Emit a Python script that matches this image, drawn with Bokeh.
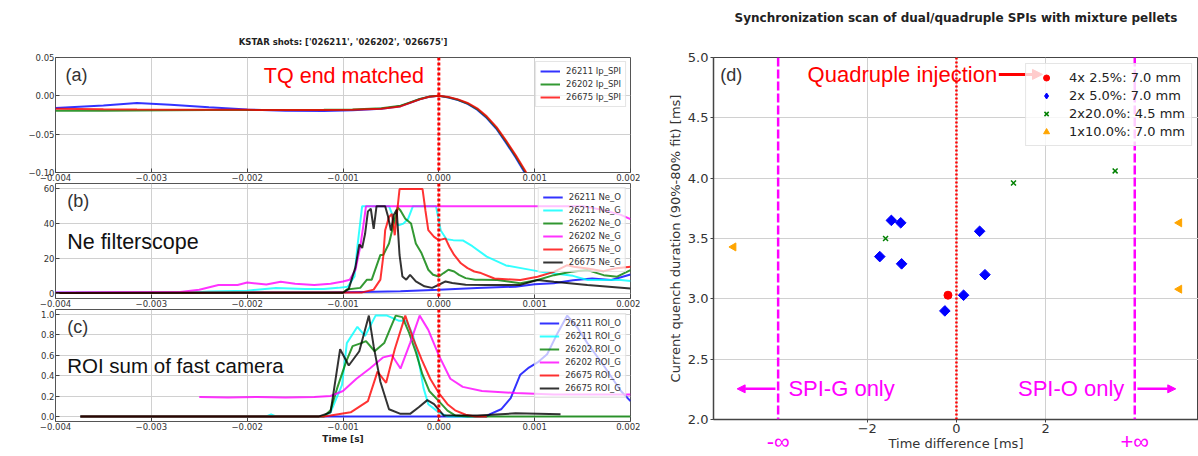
from bokeh.plotting import figure
from bokeh.layouts import row, column
from bokeh.models import (Span, Label, Legend, LegendItem, FixedTicker, LinearAxis,
                          CustomJSTickFormatter, Arrow, NormalHead, Range1d)
from bokeh.embed import file_html
from bokeh.resources import INLINE

# ---------------- (a) plasma current, KSTAR shots ----------------
ip_t = [-0.004, -0.0035, -0.00315, -0.0028, -0.0024, -0.002, -0.0016, -0.0012,
        -0.0009, -0.0006, -0.0004, -0.0003, -0.0002, -0.0001, 0.0, 0.0001,
        0.0002, 0.0003, 0.0004, 0.0005, 0.0006, 0.0007, 0.0008, 0.0009, 0.00095]
ip_26211 = [-0.0160, -0.0125, -0.0095, -0.0115, -0.0150, -0.0178, -0.0195, -0.0198,
            -0.0188, -0.0170, -0.0135, -0.0090, -0.0045, -0.0012, 0.0, -0.0022,
            -0.0055, -0.0105, -0.0180, -0.0290, -0.0430, -0.0610, -0.0800, -0.1010, -0.1120]
ip_26202 = [-0.0195, -0.0193, -0.0190, -0.0188, -0.0186, -0.0185, -0.0185, -0.0183,
            -0.0178, -0.0162, -0.0128, -0.0085, -0.0042, -0.0010, 0.0, -0.0020,
            -0.0052, -0.0100, -0.0172, -0.0280, -0.0418, -0.0595, -0.0785, -0.0990, -0.1100]
ip_26675 = [-0.0168, -0.0175, -0.0178, -0.0180, -0.0182, -0.0183, -0.0184, -0.0185,
            -0.0182, -0.0168, -0.0138, -0.0092, -0.0046, -0.0012, 0.0, -0.0016,
            -0.0046, -0.0093, -0.0162, -0.0268, -0.0405, -0.0580, -0.0770, -0.0975, -0.1090]

# ---------------- (b) Ne filterscope ----------------
ne_26211_o_t = [-0.004, -0.0012, -0.0008, -0.0004, 0.0, 0.0004, 0.0008, 0.001,
                0.0012, 0.0014, 0.0016, 0.0018, 0.002]
ne_26211_o_v = [0.3, 0.5, 0.8, 1.1, 2.0, 3.0, 3.8, 5.2, 5.7, 7.5, 8.5, 7.6, 10.8]

ne_26211_g_t = [-0.004, -0.0026, -0.0024, -0.002, -0.0017, -0.0014, -0.0012, -0.00105,
                -0.00095, -0.00088, -0.00085, -0.0008, -0.00052, -0.00047, -0.00042,
                -0.00037, -0.00032, -0.00027, -0.00003, 0.00002, 0.00008, 0.00015,
                0.00025, 0.00035, 0.0005, 0.0007, 0.0009, 0.0011, 0.0014, 0.00155,
                0.0019, 0.002]
ne_26211_g_v = [0.3, 0.3, 1.0, 1.5, 3.0, 2.5, 2.5, 3.1, 3.8, 9.6, 26.7, 50, 50, 42.8,
                39, 40, 42.8, 50, 50, 36, 31, 30.5, 30.3, 27, 21, 16, 14, 12, 10, 7.6,
                7.6, 7.0]

ne_26202_o_t = [-0.004, -0.001, -0.00096, -0.00082, -0.00075, -0.0007, -0.00061,
                -0.00058, -0.00052, -0.00047, -0.00043, -0.0004, -0.00035, -0.00029,
                -0.00024, -0.00018, -0.00011, -0.00006, 0.0, 0.00005, 0.0001, 0.00016,
                0.00021, 0.00028, 0.00038, 0.00045, 0.00061, 0.00085, 0.00103, 0.0012,
                0.00138, 0.00155, 0.00172, 0.00186, 0.002]
ne_26202_o_v = [0.2, 0.3, 2.1, 3.1, 7.8, 7.8, 22, 22, 28.6, 40, 49.4, 47.5, 42.8, 40,
                28.6, 22.9, 13.5, 10.6, 9.6, 11.6, 13.5, 12.5, 10.6, 8.7, 7.8, 7.8,
                7.6, 5.7, 7.6, 10.4, 12.3, 13.3, 10.4, 9.5, 13.3]

ne_26202_g_t = [-0.004, -0.0027, -0.0025, -0.0023, -0.0021, -0.002, -0.0018, -0.00165,
                -0.0015, -0.0013, -0.00113, -0.001, -0.00093, -0.00087, -0.00082,
                -0.00079, -0.00076, 0.0015, 0.0017, 0.0019, 0.002]
ne_26202_g_v = [0.5, 0.8, 2.0, 4.8, 4.8, 6.2, 5.0, 6.6, 5.5, 4.7, 5.5, 6.8, 7.8, 13.5,
                26.7, 38, 50, 50, 48, 45, 42.6]

ne_26675_o_t = [-0.004, -0.0008, -0.00068, -0.00061, -0.00058, -0.00056, -0.00052,
                -0.00049, -0.00046, -0.00043, -0.00041, -0.00017, -0.00014, -0.00011,
                -0.00005, 0.0, 0.00007, 0.00011, 0.00016, 0.00023, 0.0003, 0.00037,
                0.00044, 0.00058, 0.00085, 0.00103, 0.0012, 0.00134, 0.00141, 0.00155,
                0.00172, 0.00183, 0.002]
ne_26675_o_v = [0.2, 0.5, 2.1, 7.8, 21, 36.2, 43.7, 45.6, 33.3, 49.4, 59.8, 59.8, 47.5,
                36.2, 32.4, 30.5, 31.4, 26.7, 22, 17.2, 14.4, 12.5, 11.6, 8.5, 7.6, 9.5,
                12.3, 16.1, 15.2, 14.2, 12.7, 14.2, 15.2]

ne_26675_g_t = [-0.004, -0.001, -0.00094, -0.00087, -0.00083, -0.0008, -0.00077,
                -0.00074, -0.00071, -0.00068, -0.00065, -0.00056, -0.00053, -0.0005,
                -0.00047, -0.00044, -0.00041, -0.00038, -0.00034, -0.0003, -0.00024,
                -0.00015, -0.00007, 0.0, 0.00007, 0.00014, 0.00028, 0.0005, 0.00085,
                0.00103, 0.0012, 0.00155, 0.002]
ne_26675_g_v = [0.2, 0.3, 2.5, 15, 28, 26, 34, 47, 48.5, 37, 50, 50, 44, 36, 45, 48, 22,
                9.6, 7.8, 10.6, 6.8, 4.0, 3.1, 4.9, 6.8, 5.9, 4.9, 4.8, 4.8, 7.6, 6.6,
                4.8, 2.8]

# ---------------- (c) ROI sum of fast camera ----------------
roi_26211_o_t = [-0.00374, 0.0005, 0.00054, 0.00065, 0.00075, 0.00085, 0.00094, 0.00103,
                 0.00113, 0.00124, 0.00134, 0.00144, 0.00155, 0.00172, 0.0019, 0.002]
roi_26211_o_v = [0.0, 0.0, 0.025, 0.07, 0.18, 0.41, 0.48, 0.53, 0.61, 0.82, 0.99, 0.88,
                 0.72, 0.5, 0.25, 0.15]

roi_26211_g_t = [-0.00374, -0.0018, -0.00175, -0.0017, -0.0012, -0.00113, -0.00101,
                 -0.00096, -0.00085, -0.00077, -0.00066, -0.00054, -0.00042, -0.00034,
                 -0.00027, -0.00022, -0.00016, -0.00011, 0.0, 0.00009, 0.0004]
roi_26211_g_v = [0.0, 0.0, 0.02, 0.0, 0.0, 0.04, 0.31, 0.72, 0.88, 0.79, 0.99, 0.99,
                 0.94, 0.94, 0.8, 0.6, 0.28, 0.12, 0.04, 0.0, 0.0]

roi_26202_o_t = [-0.00374, -0.0012, -0.00113, -0.00106, -0.00097, -0.0009, -0.00081,
                 -0.00076, -0.00067, -0.00057, -0.0005, -0.00045, -0.00038, -0.00031,
                 -0.00024, -0.00017, -0.0001, 0.0, 0.00009, 0.00017, 0.0003, 0.002]
roi_26202_o_v = [0.0, 0.0, 0.06, 0.28, 0.53, 0.69, 0.72, 0.74, 0.64, 0.72, 0.88, 0.99,
                 0.975, 0.82, 0.63, 0.41, 0.25, 0.15, 0.057, 0.01, 0.0, 0.0]

roi_26202_g_t = [-0.0025, -0.0022, -0.0019, -0.0016, -0.0013, -0.00113, -0.001,
                 -0.00086, -0.00072, -0.00058, -0.00049, -0.0004, -0.0003, -0.0002,
                 -0.00011, 0.0, 0.00012, 0.00025, 0.00045, 0.0008, 0.0012, 0.002]
roi_26202_g_v = [0.19, 0.185, 0.19, 0.185, 0.19, 0.2, 0.25, 0.37, 0.47, 0.58, 0.6, 0.47,
                 0.72, 0.99, 0.85, 0.6, 0.37, 0.29, 0.25, 0.23, 0.215, 0.215]

roi_26675_o_t = [-0.00374, -0.0012, -0.00113, -0.00092, -0.00074, -0.00064, -0.00055,
                 -0.00046, -0.00035, -0.00027, -0.00018, -0.00009, 0.0, 0.00009,
                 0.00017, 0.00028, 0.00038, 0.0005]
roi_26675_o_v = [0.0, 0.0, 0.01, 0.04, 0.15, 0.44, 0.33, 0.66, 0.99, 0.77, 0.56, 0.37,
                 0.23, 0.12, 0.06, 0.016, 0.0, 0.0]

roi_26675_g_t = [-0.00374, -0.00125, -0.00113, -0.00103, -0.00094, -0.00083, -0.00073,
                 -0.00068, -0.00061, -0.00052, -0.0004, -0.0003, -0.00021, -0.00012,
                 -0.00005, 0.00005, 0.0004, 0.0008, 0.00127]
roi_26675_g_v = [0.0, 0.0, 0.04, 0.66, 0.5, 0.64, 0.99, 0.69, 0.34, 0.07, 0.025, 0.025,
                 0.09, 0.16, 0.12, 0.01, 0.01, 0.03, 0.02]

time_ticks = [-0.004, -0.003, -0.002, -0.001, 0.0, 0.001, 0.002]

# ---------------- (d) synchronization scan ----------------
quad_x = [-0.19]
quad_y = [3.03]
dual5_x = [-1.46, -1.25, -1.72, -1.23, 0.52, 0.64, 0.16, -0.26]
dual5_y = [3.65, 3.63, 3.35, 3.29, 3.56, 3.20, 3.03, 2.90]
dual20_x = [-1.59, 1.28, 3.56]
dual20_y = [3.50, 3.96, 4.06]
single_x = [-5.0, 5.0, 5.0]
single_y = [3.43, 3.63, 3.08]
only_lines = [-4.0, 4.0]

TICK_FONT = "DejaVu Sans"
ANNOT_FONT = "Liberation Sans"


def fmt(decimals):
    return CustomJSTickFormatter(
        code="return tick.toFixed(%d).replace('-', '\u2212');" % decimals)


def left_panel(height, ylo, yhi, yticks, ydec, top, bottom=0, bottom_label=None):
    p = figure(width=640, height=height, x_range=Range1d(-0.004, 0.002),
               y_range=Range1d(ylo, yhi), output_backend="svg",
               toolbar_location=None, min_border_left=55, min_border_right=10,
               min_border_top=top, min_border_bottom=bottom)
    p.xaxis.ticker = FixedTicker(ticks=time_ticks)
    p.xaxis.formatter = fmt(3)
    p.yaxis.ticker = FixedTicker(ticks=yticks)
    p.yaxis.formatter = fmt(ydec)
    for ax in (p.xaxis[0], p.yaxis[0]):
        ax.axis_line_color = None
        ax.major_tick_in = 4
        ax.major_tick_out = 0
        ax.major_tick_line_color = "#444444"
        ax.minor_tick_line_color = None
        ax.major_label_text_font = TICK_FONT
        ax.major_label_text_font_size = "8.5px"
        ax.major_label_text_color = "#333333"
        ax.major_label_standoff = 1
    if bottom_label:
        p.xaxis.axis_label = bottom_label
        p.xaxis.axis_label_text_font = TICK_FONT
        p.xaxis.axis_label_text_font_size = "9px"
        p.xaxis.axis_label_text_font_style = "bold"
        p.xaxis.axis_label_text_color = "#222222"
        p.xaxis.axis_label_standoff = 1
    p.outline_line_color = "#555555"
    p.outline_line_width = 1
    p.grid.grid_line_color = "#d0d0d0"
    p.grid.grid_line_width = 1
    p.add_layout(Span(location=0.0, dimension="height", line_color="red",
                      line_width=3, line_dash="3 2"))
    return p


def add_legend(p, items):
    leg = Legend(items=items, location="top_right", label_text_font=TICK_FONT,
                 label_text_font_size="8.5px", label_text_color="#333333",
                 glyph_width=20, glyph_height=10, label_height=10, spacing=3,
                 padding=4, margin=4, label_standoff=6,
                 border_line_color="#cccccc", background_fill_alpha=0.7)
    p.add_layout(leg)


def panel_label(p, x, y, text, size, color="#333333"):
    p.add_layout(Label(x=x, y=y, text=text, text_font=ANNOT_FONT,
                       text_font_size=size, text_color=color,
                       text_baseline="middle", text_align="left"))


# ---- (a)
pa = left_panel(183, -0.10, 0.05, [-0.10, -0.05, 0.0, 0.05], 2, 57)
pa.title.text = "KSTAR shots: ['026211', '026202', '026675']\n"
pa.title.align = "center"
pa.title.text_font = TICK_FONT
pa.title.text_font_size = "8.5px"
pa.title.text_font_style = "bold"
pa.title.text_color = "#222222"
pa.title.text_line_height = 0.6
pa.title.standoff = 10
ra1 = pa.line(ip_t, ip_26211, line_color="blue", line_width=2, line_alpha=0.8)
ra2 = pa.line(ip_t, ip_26202, line_color="green", line_width=2, line_alpha=0.8)
ra3 = pa.line(ip_t, ip_26675, line_color="red", line_width=2, line_alpha=0.8)
add_legend(pa, [LegendItem(label="26211 Ip_SPI", renderers=[ra1]),
                LegendItem(label="26202 Ip_SPI", renderers=[ra2]),
                LegendItem(label="26675 Ip_SPI", renderers=[ra3])])
panel_label(pa, -0.003896, 0.027, "(a)", "18px")
panel_label(pa, -0.001826, 0.026, "TQ end matched", "21.5px", "red")

# ---- (b)
pb = left_panel(126, -3, 63, [0, 20, 40, 60], 0, 0)
series_b = [(ne_26211_o_t, ne_26211_o_v, "blue", "26211 Ne_O"),
            (ne_26211_g_t, ne_26211_g_v, "cyan", "26211 Ne_G"),
            (ne_26202_o_t, ne_26202_o_v, "green", "26202 Ne_O"),
            (ne_26202_g_t, ne_26202_g_v, "magenta", "26202 Ne_G"),
            (ne_26675_o_t, ne_26675_o_v, "red", "26675 Ne_O"),
            (ne_26675_g_t, ne_26675_g_v, "black", "26675 Ne_G")]
items_b = []
for t, v, c, name in series_b:
    r = pb.line(t, v, line_color=c, line_width=2, line_alpha=0.8)
    items_b.append(LegendItem(label=name, renderers=[r]))
add_legend(pb, items_b)
panel_label(pb, -0.003878, 53, "(b)", "18px")
panel_label(pb, -0.003878, 29.3, "Ne filterscope", "21.5px", "#111111")

# ---- (c)
pc = left_panel(147, -0.05, 1.05, [0.0, 0.2, 0.4, 0.6, 0.8, 1.0], 1, 0,
                bottom=35, bottom_label="Time [s]")
series_c = [(roi_26211_o_t, roi_26211_o_v, "blue", "26211 ROI_O"),
            (roi_26211_g_t, roi_26211_g_v, "cyan", "26211 ROI_G"),
            (roi_26202_o_t, roi_26202_o_v, "green", "26202 ROI_O"),
            (roi_26202_g_t, roi_26202_g_v, "magenta", "26202 ROI_G"),
            (roi_26675_o_t, roi_26675_o_v, "red", "26675 ROI_O"),
            (roi_26675_g_t, roi_26675_g_v, "black", "26675 ROI_G")]
items_c = []
for t, v, c, name in series_c:
    r = pc.line(t, v, line_color=c, line_width=2, line_alpha=0.8)
    items_c.append(LegendItem(label=name, renderers=[r]))
add_legend(pc, items_c)
panel_label(pc, -0.003878, 0.88, "(c)", "18px")
panel_label(pc, -0.003878, 0.50, "ROI sum of fast camera", "20.5px", "#111111")

# ---- (d)
pd = figure(width=558, height=456, x_range=Range1d(-5.45, 5.43),
            y_range=Range1d(2.0, 5.0), output_backend="svg", toolbar_location=None,
            min_border_left=73, min_border_right=0, min_border_top=57,
            min_border_bottom=36)
pd.title.text = "Synchronization scan of dual/quadruple SPIs with mixture pellets\n\n"
pd.title.align = "center"
pd.title.text_font = TICK_FONT
pd.title.text_font_size = "12px"
pd.title.text_font_style = "bold"
pd.title.text_color = "#222222"
pd.title.standoff = 10
pd.xaxis.ticker = FixedTicker(ticks=[-2, 0, 2])
pd.xaxis.formatter = fmt(0)
pd.yaxis.ticker = FixedTicker(ticks=[2.0, 2.5, 3.0, 3.5, 4.0, 4.5, 5.0])
pd.yaxis.formatter = fmt(1)
pd.xaxis.axis_label = "Time difference [ms]"
pd.yaxis.axis_label = "Current quench duration (90%-80% fit) [ms]"
for ax in (pd.xaxis[0], pd.yaxis[0]):
    ax.axis_line_color = "#444444"
    ax.axis_line_width = 1.5
    ax.major_tick_out = 3
    ax.major_tick_in = 0
    ax.major_tick_line_color = "#444444"
    ax.minor_tick_line_color = None
    ax.major_label_text_font = TICK_FONT
    ax.major_label_text_font_size = "13px"
    ax.major_label_text_color = "#333333"
    ax.major_label_standoff = 2
    ax.axis_label_text_font = TICK_FONT
    ax.axis_label_text_font_size = "13px"
    ax.axis_label_text_font_style = "normal"
    ax.axis_label_text_color = "#333333"
    ax.axis_label_standoff = 2
pd.xaxis.major_label_standoff = 1
pd.xaxis.axis_label_standoff = 0
pd.outline_line_color = "#444444"
pd.grid.grid_line_color = "#d0d0d0"
pd.grid.grid_line_width = 1

# magenta infinity marks under the "only" boundaries
inf_axis = LinearAxis(
    ticker=FixedTicker(ticks=only_lines),
    formatter=CustomJSTickFormatter(code="return tick < 0 ? '-\u221e' : '+\u221e';"),
    axis_line_color=None, major_tick_line_color=None, minor_tick_line_color=None,
    major_tick_out=0, major_tick_in=0,
    major_label_text_font=ANNOT_FONT, major_label_text_font_size="22px",
    major_label_text_color="magenta", major_label_standoff=-25)
pd.add_layout(inf_axis, "below")

for xv in only_lines:
    pd.add_layout(Span(location=xv, dimension="height", line_color="magenta",
                       line_width=2.5, line_dash="9 3"))
pd.add_layout(Span(location=0.0, dimension="height", line_color="red",
                   line_width=2.5, line_dash="2 2"))

rq = pd.scatter(quad_x, quad_y, marker="circle", size=8, color="red")
r5 = pd.scatter(dual5_x, dual5_y, marker="square", angle=0.7854, size=7.5,
                color="blue")
r20 = pd.scatter(dual20_x, dual20_y, marker="x", size=7, line_color="green",
                 line_width=1.5)
r1 = pd.scatter(single_x, single_y, marker="triangle", angle=1.5708, size=8,
                color="orange")
# legend swatch for the rotated-square series, parked outside the visible range
r5_key = pd.scatter([100.0], [100.0], marker="diamond", size=15, color="blue")

leg_d = Legend(items=[LegendItem(label="4x 2.5%: 7.0 mm", renderers=[rq]),
                      LegendItem(label="2x 5.0%: 7.0 mm", renderers=[r5_key]),
                      LegendItem(label="2x20.0%: 4.5 mm", renderers=[r20]),
                      LegendItem(label="1x10.0%: 7.0 mm", renderers=[r1])],
               location="top_right", label_text_font=TICK_FONT,
               label_text_font_size="13px", label_text_color="#222222",
               glyph_width=28, glyph_height=15, label_height=15, spacing=3,
               padding=6, margin=6, label_standoff=9,
               border_line_color="#cccccc", background_fill_alpha=0.8)
pd.add_layout(leg_d)

pd.add_layout(Label(x=-5.3, y=4.855, text="(d)", text_font=ANNOT_FONT,
                    text_font_size="18px", text_color="#333333",
                    text_baseline="middle"))
pd.add_layout(Label(x=-3.34, y=4.855, text="Quadruple injection",
                    text_font=ANNOT_FONT, text_font_size="22px", text_color="red",
                    text_baseline="middle"))
pd.add_layout(Arrow(x_start=0.95, y_start=4.86, x_end=1.93, y_end=4.86,
                    line_color="red", line_width=3,
                    end=NormalHead(size=10, fill_color="red", line_color="red")))
pd.add_layout(Label(x=-3.77, y=2.254, text="SPI-G only", text_font=ANNOT_FONT,
                    text_font_size="22px", text_color="magenta",
                    text_baseline="middle"))
pd.add_layout(Label(x=1.38, y=2.254, text="SPI-O only", text_font=ANNOT_FONT,
                    text_font_size="22px", text_color="magenta",
                    text_baseline="middle"))
pd.add_layout(Arrow(x_start=-4.06, y_start=2.254, x_end=-4.92, y_end=2.254,
                    line_color="magenta", line_width=2.5,
                    end=NormalHead(size=8, fill_color="magenta",
                                   line_color="magenta")))
pd.add_layout(Arrow(x_start=4.06, y_start=2.254, x_end=4.92, y_end=2.254,
                    line_color="magenta", line_width=2.5,
                    end=NormalHead(size=8, fill_color="magenta",
                                   line_color="magenta")))

layout = row(column(pa, pb, pc), pd)
open("out.html", "w").write(file_html(layout, INLINE))
